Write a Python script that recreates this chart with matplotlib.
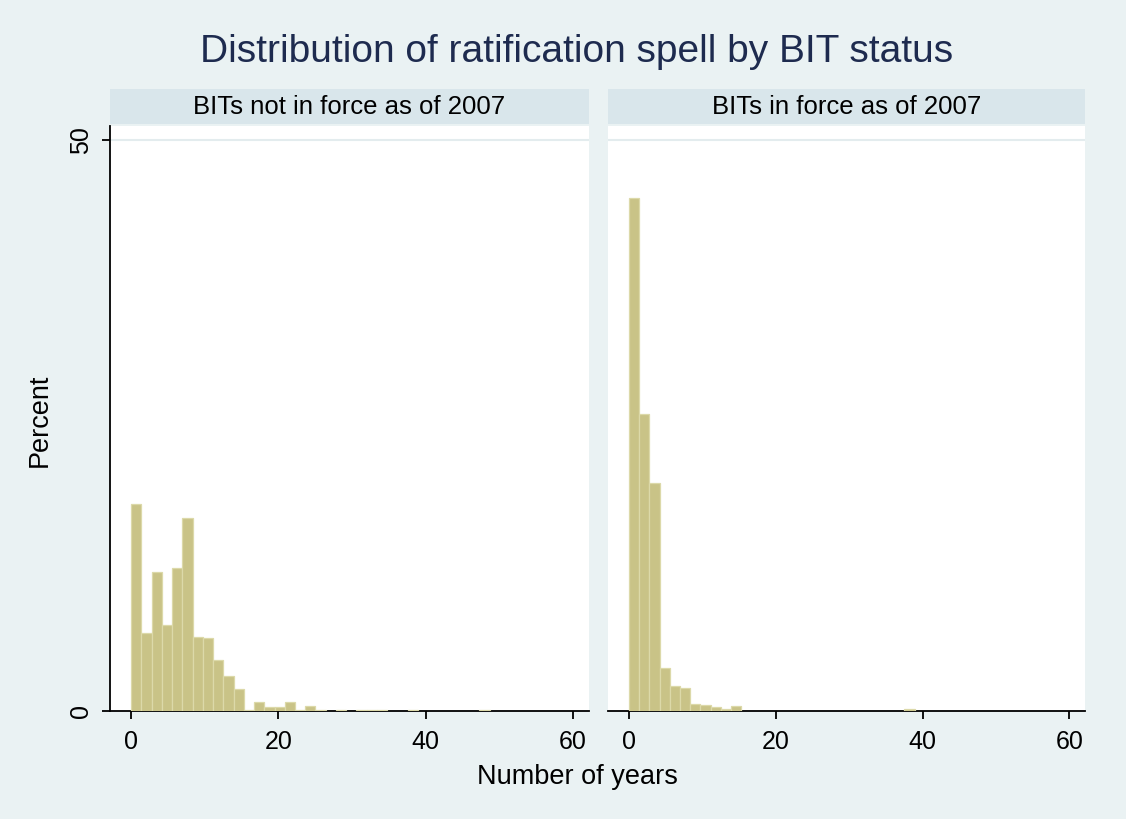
import numpy as np
import matplotlib
matplotlib.use("Agg")
import matplotlib.pyplot as plt

plt.rcParams["font.family"] = ["Liberation Sans", "DejaVu Sans"]

# Data (percent per bin)
bin_width = 1.39
pct_not_in_force = [18.1, 6.8, 12.2, 7.5, 12.5, 16.9, 6.5, 6.35, 4.5, 3.07,
                    1.9, 0.1, 0.75, 0.35, 0.35, 0.75, 0.1, 0.4, 0.1, 0.0,
                    0.1, 0.0, 0.1, 0.1, 0.1, 0.0, 0.0, 0.1, 0.0, 0.0,
                    0.0, 0.0, 0.0, 0.0, 0.1]
pct_in_force = [44.9, 26.0, 19.95, 3.8, 2.15, 2.0, 0.65, 0.5, 0.35, 0.2,
                0.4, 0.0, 0.0, 0.0, 0.0, 0.0, 0.0, 0.0, 0.0, 0.0,
                0.0, 0.0, 0.0, 0.0, 0.0, 0.0, 0.0, 0.2]
panel_titles = ["BITs not in force as of 2007", "BITs in force as of 2007"]
xticks = [0, 20, 40, 60]
yticks = [0, 50]

bg = "#eaf2f3"
strip_col = "#d9e6eb"
bar_col = "#c9c387"
bar_edge = "#dcd9a9"
navy = "#1e2b4f"

W, H = 1126, 819
fig = plt.figure(figsize=(W / 100, H / 100), dpi=100)
fig.patch.set_facecolor(bg)

plot_top, plot_bot = 126, 711
strip_top, strip_bot = 89, 124
panels_x = [(110, 589), (608, 1085)]
xlim = (-2.87, 62.15)
ylim = (0, 51.23)

for k, (data, title) in enumerate(zip([pct_not_in_force, pct_in_force], panel_titles)):
    x0, x1 = panels_x[k]
    ax = fig.add_axes([x0 / W, 1 - plot_bot / H, (x1 - x0) / W, (plot_bot - plot_top) / H])
    ax.set_facecolor("white")
    h = np.array(data)
    left = np.arange(len(h)) * bin_width
    m = h > 0
    ax.bar(left[m], h[m], width=bin_width, align="edge", color=bar_col,
           edgecolor=bar_edge, linewidth=0.9, zorder=3)
    ax.axhline(50, color="#e3ecee", lw=1.5, zorder=1)
    ax.set_xlim(xlim)
    ax.set_ylim(ylim)
    ax.set_xticks(xticks)
    ax.set_xticklabels([str(t) for t in xticks], fontsize=18, color="black")
    ax.tick_params(axis="x", direction="out", length=6, width=1.3, pad=8)
    for s in ["top", "right"]:
        ax.spines[s].set_visible(False)
    ax.spines["bottom"].set_linewidth(1.3)
    if k == 0:
        ax.spines["left"].set_linewidth(1.3)
        ax.set_yticks(yticks)
        ax.set_yticklabels([str(t) for t in yticks], fontsize=18, rotation=90, va="center")
        ax.tick_params(axis="y", direction="out", length=6, width=1.3, pad=6)
    else:
        ax.spines["left"].set_visible(False)
        ax.set_yticks([])

    # strip
    sax = fig.add_axes([x0 / W, 1 - strip_bot / H, (x1 - x0) / W, (strip_bot - strip_top) / H])
    sax.set_facecolor(strip_col)
    sax.set_xticks([])
    sax.set_yticks([])
    for s in sax.spines.values():
        s.set_visible(False)
    sax.text(0.5, 0.5, title, ha="center", va="center", fontsize=18.5, color="black",
             transform=sax.transAxes)

fig.text(577 / W, 1 - 52 / H, "Distribution of ratification spell by BIT status",
         ha="center", va="center", fontsize=28, color=navy)
fig.text(40 / W, 1 - 420 / H, "Percent", ha="center", va="center", rotation=90,
         fontsize=19.5, color="black")
fig.text(577 / W, 1 - 777 / H, "Number of years", ha="center", va="center",
         fontsize=19.5, color="black")

fig.savefig("out.png", dpi=100, facecolor=bg)
